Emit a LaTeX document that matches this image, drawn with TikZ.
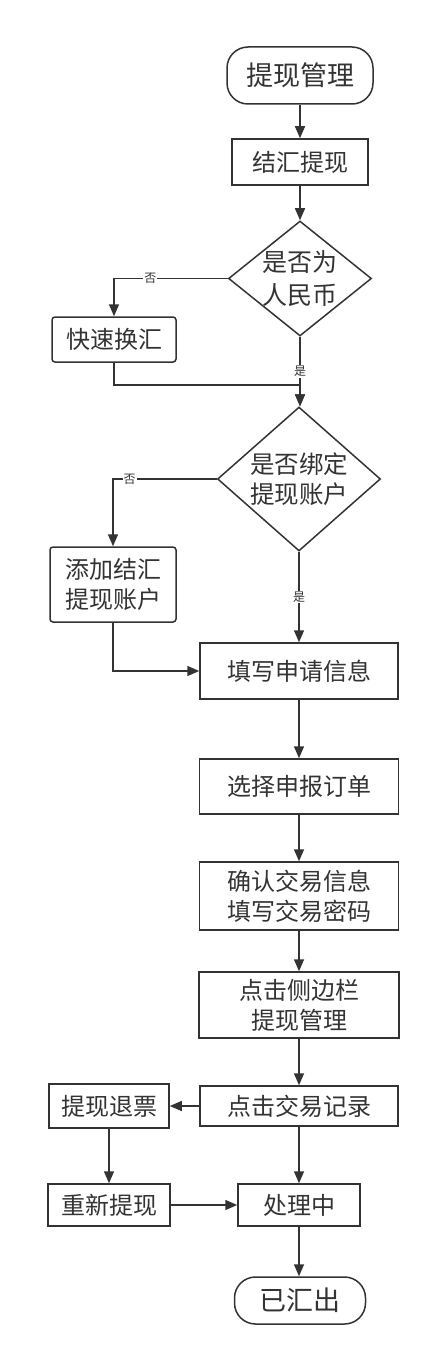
\documentclass[tikz,border=0pt]{standalone}
\usepackage{fontspec}
\newfontfamily\cjk{Noto Sans CJK SC}
\usetikzlibrary{shapes.geometric,arrows.meta}
\definecolor{ink}{HTML}{333333}
\begin{document}
\begin{tikzpicture}[x=1pt,y=-1pt,
  every node/.style={font=\cjk, text=ink},
  base/.style={draw=ink, line width=1.5pt, inner sep=0pt, align=center,
    font=\cjk\fontsize{24}{30}\selectfont},
  term/.style={base, rounded corners=21pt, font=\cjk\fontsize{27}{32}\selectfont},
  proc/.style={base},
  rproc/.style={base, rounded corners=3pt},
  dia/.style={draw=ink, line width=1.5pt, diamond, inner sep=0pt},
  lab/.style={fill=white, inner sep=1pt, font=\cjk\fontsize{12}{13}\selectfont},
  arr/.style={draw=ink, line width=1.5pt, -{Triangle[length=12pt,width=10pt]}},
  ln/.style={draw=ink, line width=1.5pt}
]
\useasboundingbox (0,0) rectangle (431,1356);
\node[term, minimum width=146pt, minimum height=57pt] (t1) at (300,75.5) {提现管理};
\node[proc, minimum width=136pt, minimum height=46pt] (jh) at (300,162) {结汇提现};
\node[dia, minimum width=143pt, minimum height=115pt,
  label={[align=center, font=\cjk\fontsize{25}{33}\selectfont, text=ink]center:是否为\\人民币}] (d1) at (300,278.5) {};
\node[rproc, minimum width=124pt, minimum height=45pt] (ks) at (114,339.5) {快速换汇};
\node[dia, minimum width=163pt, minimum height=144pt,
  label={[align=center, font=\cjk\fontsize{24.5}{30}\selectfont, text=ink]center:是否绑定\\提现账户}] (d2) at (299,479) {};
\node[rproc, minimum width=126pt, minimum height=75pt] (tj) at (113,584.5) {添加结汇\\提现账户};
\node[proc, minimum width=198pt, minimum height=56pt] (tx) at (299,671) {填写申请信息};
\node[proc, minimum width=199pt, minimum height=55pt] (xz) at (299,786.5) {选择申报订单};
\node[proc, minimum width=199pt, minimum height=68pt] (qr) at (299,896) {确认交易信息\\填写交易密码};
\node[proc, minimum width=200pt, minimum height=66pt] (dj) at (299,1005) {点击侧边栏\\提现管理};
\node[proc, minimum width=198pt, minimum height=40pt] (jl) at (299,1106) {点击交易记录};
\node[proc, minimum width=120pt, minimum height=44pt] (tp) at (109,1106) {提现退票};
\node[proc, minimum width=122pt, minimum height=42pt] (cx) at (109,1205) {重新提现};
\node[proc, minimum width=122pt, minimum height=42pt] (cl) at (299,1205) {处理中};
\node[term, minimum width=131pt, minimum height=47pt] (yh) at (300,1300.5) {已汇出};

\draw[arr] (t1) -- (jh);
\draw[arr] (jh) -- (d1);
\draw[arr] (d1.west) -| node[lab, pos=0.34] {否} (ks.north);
\draw[arr] (d1.south) -- node[lab, pos=0.5] {是} (d1.south |- d2.north);
\draw[arr] (ks.south) -- ++(0,22) -| (d1.south |- d2.north);
\draw[arr] (d2.west) -| node[lab, pos=0.42] {否} (tj.north);
\draw[arr] (d2.south) -- node[lab, pos=0.5] {是} (tx.north);
\draw[arr] (tj.south) |- (tx.west);
\draw[arr] (tx) -- (xz);
\draw[arr] (xz) -- (qr);
\draw[arr] (qr) -- (dj);
\draw[arr] (dj) -- (jl);
\draw[arr] (jl) -- (tp);
\draw[arr] (tp) -- (cx);
\draw[arr] (cx) -- (cl);
\draw[arr] (jl) -- (cl);
\draw[arr] (cl.south) -- (cl.south |- yh.north);
\end{tikzpicture}
\end{document}
